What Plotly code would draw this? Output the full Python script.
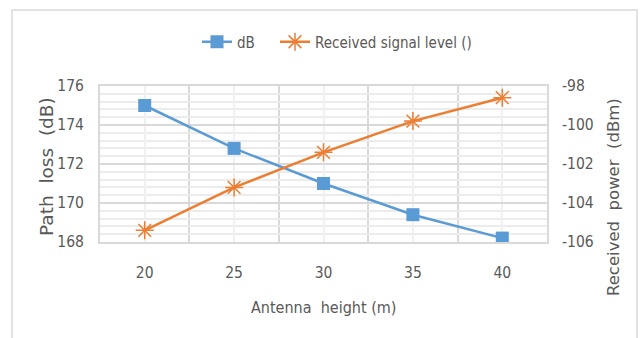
import plotly.graph_objects as go

# Antenna height (m) and the two measured series
heights = [20, 25, 30, 35, 40]
path_loss_db = [175.0, 172.8, 171.0, 169.4, 168.2]
received_dbm = [-105.4, -103.2, -101.4, -99.8, -98.6]

left_ticks = [168, 170, 172, 174, 176]
right_ticks = [-106, -104, -102, -100, -98]
right_labels = ["-106", "-104", "-102", "-100", "-98"]

BLUE = "#5B9BD5"
ORANGE = "#ED7D31"
TEXT = "#595959"
FONT = "Liberation Sans Narrow, DejaVu Sans Condensed, Lato, sans-serif"
WIDE = "DejaVu Sans, sans-serif"

fig = go.Figure()
fig.add_trace(go.Scatter(
    x=heights, y=path_loss_db, name="dB", mode="lines+markers",
    line=dict(color=BLUE, width=2.5),
    marker=dict(symbol="square", size=13, color=BLUE),
    yaxis="y", legend="legend",
))
fig.add_trace(go.Scatter(
    x=heights, y=received_dbm, name="Received signal level ()", mode="lines+markers",
    line=dict(color=ORANGE, width=2.5),
    marker=dict(symbol="asterisk-open", size=15, color=ORANGE,
                line=dict(color=ORANGE, width=1.5)),
    yaxis="y2", legend="legend2",
))

W, H = 641, 338
L, R, T, B = 100, 94, 86, 96
pw, ph = W - L - R, H - T - B


def px_x(x):
    return (x - L) / pw


def px_y(y):
    return (H - B - y) / ph


def legend_box(left_px):
    return dict(orientation="h", x=px_x(left_px), xanchor="left",
                y=px_y(42), yanchor="middle",
                font=dict(size=15, color=TEXT), itemwidth=30,
                bgcolor="rgba(0,0,0,0)")


fig.update_layout(
    width=W, height=H,
    margin=dict(l=L, r=R, t=T, b=B),
    paper_bgcolor="white", plot_bgcolor="white",
    font=dict(family=FONT, size=16, color=TEXT),
    showlegend=True,
    legend=legend_box(197),
    legend2=legend_box(275),
    xaxis=dict(
        range=[17.5, 42.5], tickmode="array", tickvals=heights,
        ticktext=[str(h) for h in heights],
        showgrid=True, gridcolor="#f0f0f0", gridwidth=1.5,
        minor=dict(tickmode="array", tickvals=[22.5, 27.5, 32.5, 37.5],
                   showgrid=True, gridcolor="#d9d9d9", gridwidth=1.5),
        showline=True, linecolor="#d9d9d9", linewidth=2, mirror=True,
        zeroline=False, ticks="", ticklabelstandoff=15,
        tickfont=dict(size=15.5, color=TEXT),
    ),
    yaxis=dict(
        range=[168, 176], tickmode="array", tickvals=left_ticks,
        showgrid=True, gridcolor="#d9d9d9", gridwidth=1.5,
        minor=dict(dtick=0.4, tick0=168, showgrid=True,
                   gridcolor="#ececec", gridwidth=1.5),
        showline=True, linecolor="#d9d9d9", linewidth=2, mirror=True,
        zeroline=False, ticks="", ticklabelstandoff=11,
        tickfont=dict(size=15.5, color=TEXT),
    ),
    yaxis2=dict(
        range=[-106, -98], tickmode="array", tickvals=right_ticks,
        ticktext=right_labels,
        overlaying="y", side="right", showgrid=False, zeroline=False,
        ticks="", ticklabelstandoff=14,
        tickfont=dict(size=15.5, color=TEXT),
    ),
    shapes=[dict(type="rect", xref="paper", yref="paper",
                 x0=px_x(12), x1=px_x(637), y0=px_y(360), y1=px_y(10),
                 line=dict(color="#d9d9d9", width=1.5), layer="below")],
    annotations=[
        dict(text="Antenna  height (m)", xref="paper", yref="paper",
             x=0.5, y=px_y(307), xanchor="center", yanchor="middle",
             showarrow=False, font=dict(size=16, color=TEXT)),
        dict(text="Path  loss  (dB)", xref="paper", yref="paper",
             x=px_x(46), y=px_y(167), xanchor="center", yanchor="middle",
             textangle=-90, showarrow=False,
             font=dict(family=WIDE, size=18.5, color=TEXT)),
        dict(text="Received  power  (dBm)", xref="paper", yref="paper",
             x=px_x(613), y=px_y(197), xanchor="center", yanchor="middle",
             textangle=-90, showarrow=False,
             font=dict(family=WIDE, size=16.5, color=TEXT)),
    ],
)

fig.write_html("out.html")
